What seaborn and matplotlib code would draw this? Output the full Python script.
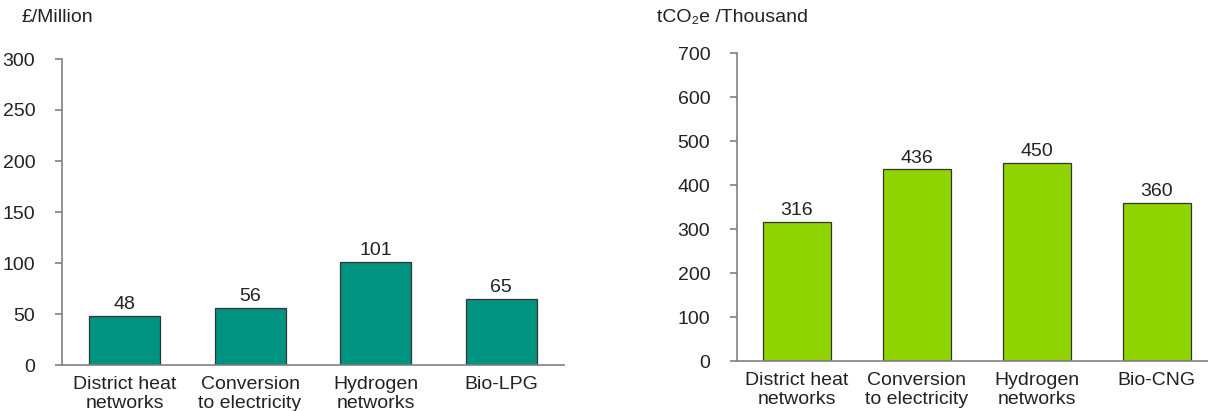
"""Two bar charts: cost and carbon savings by heat option."""
import matplotlib
matplotlib.use("Agg")
import matplotlib.pyplot as plt
import pandas as pd
import seaborn as sns

# Daten
cost_categories = ["District heat\nnetworks", "Conversion\nto electricity", "Hydrogen\nnetworks", "Bio-LPG"]
cost_values = [48, 56, 101, 65]
cost_ticks = [0, 50, 100, 150, 200, 250, 300]

carbon_categories = ["District heat\nnetworks", "Conversion\nto electricity", "Hydrogen\nnetworks", "Bio-CNG"]
carbon_values = [316, 436, 450, 360]
carbon_ticks = [0, 100, 200, 300, 400, 500, 600, 700]

sns.set_theme(style="white")
plt.rcParams["font.family"] = ["Liberation Sans", "DejaVu Sans"]

TEXT = "#222222"
SPINE = "#808080"
FS = 14

fig = plt.figure(figsize=(12.08, 4.11), dpi=100)
W, H = 1208, 411


def make_axes(left, right, bottom, top):
    return fig.add_axes([left / W, 1 - bottom / H, (right - left) / W, (bottom - top) / H])


def draw(ax, cats, vals, ticks, color):
    df = pd.DataFrame({"cat": cats, "val": vals})
    sns.barplot(data=df, x="cat", y="val", ax=ax, color=color, saturation=1,
                width=0.565, edgecolor="#333333", linewidth=0.9)
    ax.set_ylim(ticks[0], ticks[-1])
    ax.set_xlim(-0.5, len(cats) - 0.5)
    ax.set_yticks(ticks)
    ax.set_xlabel("")
    ax.set_ylabel("")
    for i, v in enumerate(vals):
        ax.annotate(str(v), (i, v), xytext=(0, 2), textcoords="offset points",
                    ha="center", va="bottom", fontsize=FS, color=TEXT)
    sns.despine(ax=ax)
    for s in ("left", "bottom"):
        ax.spines[s].set_color(SPINE)
        ax.spines[s].set_linewidth(1.2)
    ax.tick_params(axis="y", which="both", left=True, length=5, width=1.2, color=SPINE,
                   labelsize=FS, labelcolor=TEXT, pad=14)
    ax.tick_params(axis="x", bottom=False, labelsize=FS, labelcolor=TEXT, pad=2)
    for lbl in ax.get_xticklabels():
        lbl.set_linespacing(1.12)


ax1 = make_axes(61.7, 564, 365, 59)
draw(ax1, cost_categories, cost_values, cost_ticks, "#009382")
fig.text(22 / W, 1 - 18 / H, "£/Million", ha="left", va="center", fontsize=FS, color=TEXT)

ax2 = make_axes(736.7, 1216.7, 361, 53.3)
draw(ax2, carbon_categories, carbon_values, carbon_ticks, "#8fd400")
fig.text(657 / W, 1 - 17 / H, "tCO₂e /Thousand", ha="left", va="center", fontsize=FS, color=TEXT)

fig.savefig("out.png", dpi=100)
